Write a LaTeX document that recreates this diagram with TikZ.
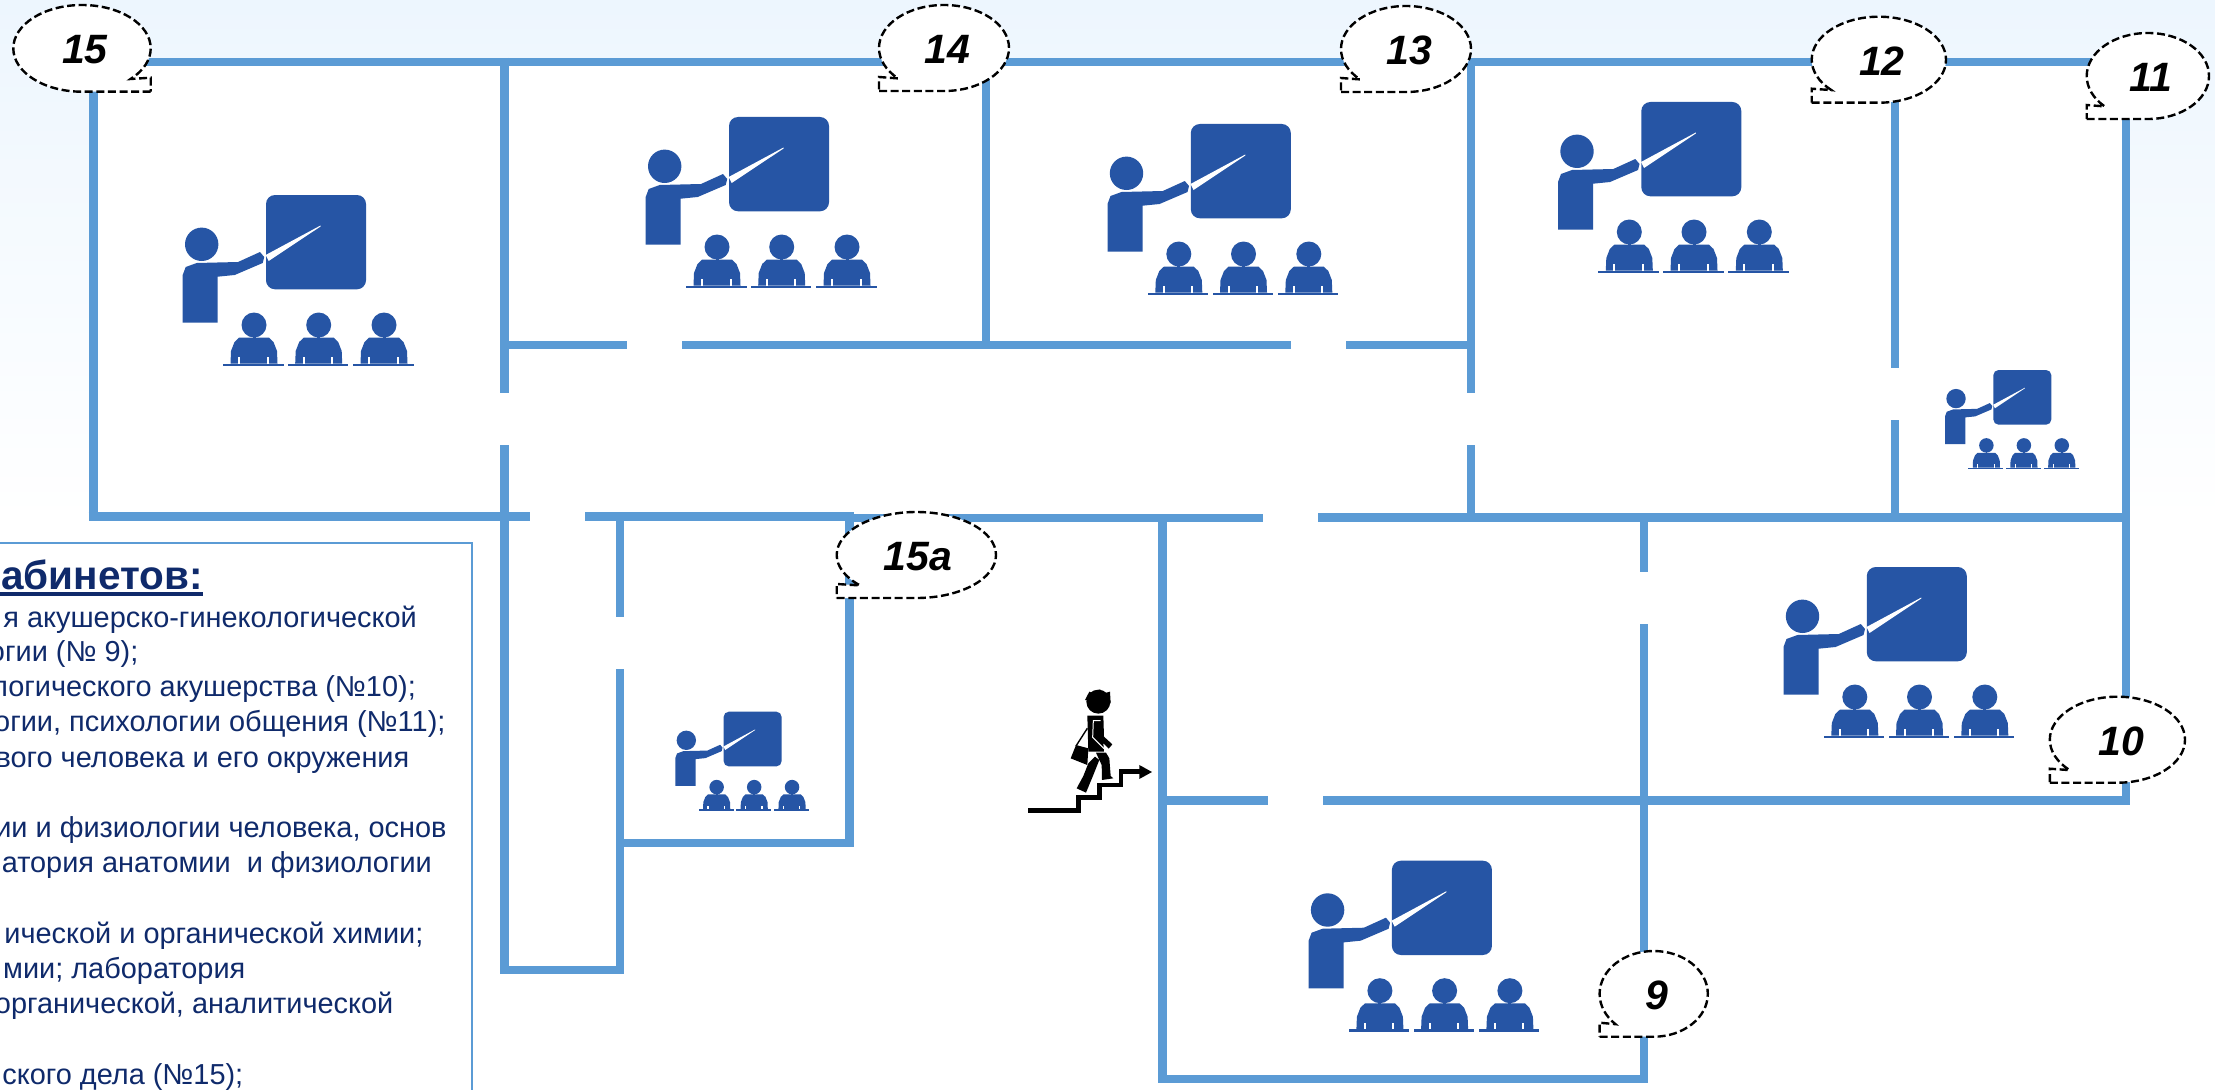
\documentclass[tikz,border=0pt]{standalone}
\usepackage{fontspec}
\setmainfont{Liberation Sans}
\definecolor{wallc}{HTML}{5B9BD5}
\definecolor{iconc}{HTML}{2655A5}
\definecolor{navy}{HTML}{0F2A6B}
\definecolor{skyc}{HTML}{EDF6FE}
\tikzset{
  wall/.style={draw=wallc,line width=8.4pt,line cap=butt},
  calloutshape/.style={draw=black,fill=white,line width=2.4pt,dash pattern=on 8pt off 3.6pt,line join=miter},
  calloutnum/.style={inner sep=0pt,font=\fontsize{41}{45}\selectfont\bfseries\itshape,text=black},
  listline/.style={inner sep=0pt,anchor=base east,text=navy,font=\fontsize{28.9}{34}\selectfont},
}
% teacher pictogram: x, y of top-left, scale
\newcommand\teacher[3]{%
\begin{scope}[shift={(#1,#2)},scale=#3]
  \fill[iconc,rounded corners={#3*9pt}] (83.3,0) rectangle (183.3,94.3);
  \fill[iconc] (19,49.3) circle[radius=16.7];
  \fill[iconc] (0,127.7) -- (35,127.7) -- (35,81.7) -- (52,80) -- (80,68) -- (81.5,62) -- (77.3,57) -- (55.3,67) -- (14,68) -- (3,72) -- (0,80) -- cycle;
  \fill[white] (83,60) -- (137.8,30.5) -- (137.8,31.5) -- (86,66) -- cycle;
  \foreach \sx in {71.3,136,201.3}{
    \fill[iconc] (\sx,130) circle[radius=12.5];
    \fill[iconc] (\sx-1.5,140) rectangle (\sx+1.5,144);
    \fill[iconc] (\sx-23.5,168.5) -- (\sx-23,156) -- (\sx-19.5,147) -- (\sx-15,142.7) -- (\sx+15,142.7) -- (\sx+19.5,147) -- (\sx+23,156) -- (\sx+23.5,168.5) -- cycle;
    \fill[white] (\sx-16,162) rectangle (\sx-14,168.5);
    \fill[white] (\sx+12.5,162) rectangle (\sx+14.5,168.5);
    \fill[iconc] (\sx-31,168.5) rectangle (\sx+29.5,171);
  }
\end{scope}}
% callout: name, left, top, right, bottom, text, text dx; tail bottom-left
\newcommand\calloutL[7]{%
  \pgfmathsetmacro\cxx{(#2+#4)/2}\pgfmathsetmacro\cyy{(#3+#5)/2}%
  \pgfmathsetmacro\rxx{(#4-#2)/2}\pgfmathsetmacro\ryy{(#5-#3)/2}%
  \path[calloutshape] (#2,#5) -- (\cxx,#5) arc[start angle=270,end angle=585,x radius=\rxx pt,y radius=\ryy pt] -- (#2,#5-14) -- cycle;
  \node[calloutnum] (#1) at (\cxx+#7,\cyy+1.5) {#6};}
\newcommand\calloutR[7]{%
  \pgfmathsetmacro\cxx{(#2+#4)/2}\pgfmathsetmacro\cyy{(#3+#5)/2}%
  \pgfmathsetmacro\rxx{(#4-#2)/2}\pgfmathsetmacro\ryy{(#5-#3)/2}%
  \path[calloutshape] (#4,#5) -- (\cxx,#5) arc[start angle=270,end angle=-45,x radius=\rxx pt,y radius=\ryy pt] -- (#4,#5-14) -- cycle;
  \node[calloutnum] (#1) at (\cxx+#7,\cyy+1.5) {#6};}
\begin{document}
\begin{tikzpicture}[x=1pt,y=-1pt]
\useasboundingbox (0,0) rectangle (2215,1089);
% background
\fill[white] (0,0) rectangle (2215,1089);
\shade[top color=skyc,bottom color=white] (0,0) rectangle (2215,520);
\fill[white] (93,62) -- (2126,62) -- (2126,800) -- (1644,800) -- (1644,1079) -- (1162,1079) -- (1162,517) -- (849,517) -- (849,843) -- (620,843) -- (620,970) -- (504,970) -- (504,517) -- (93,517) -- cycle;
% outer walls
\draw[wall] (88.5,62) -- (2130,62);
\draw[wall,line width=9pt] (93,58) -- (93,521);
\draw[wall] (2126,58) -- (2126,804);
% upper verticals
\draw[wall] (504.5,58) -- (504.5,392.7);
\draw[wall] (504.5,445) -- (504.5,974);
\draw[wall] (986,58) -- (986,349);
\draw[wall] (1471,58) -- (1471,392.7);
\draw[wall] (1471,445) -- (1471,520);
\draw[wall] (1895,58) -- (1895,367.7);
\draw[wall] (1895,420) -- (1895,520);
% corridor upper wall
\draw[wall] (500,345) -- (627,345);
\draw[wall] (682,345) -- (1291,345);
\draw[wall] (1346,345) -- (1475,345);
% corridor lower wall
\draw[wall] (88.5,516.5) -- (530,516.5);
\draw[wall] (585,516.5) -- (853.5,516.5);
\draw[wall] (853,518) -- (1263,518);
\draw[wall] (1318,517.5) -- (2130,517.5);
% room 15a and stub
\draw[wall] (619.7,512.5) -- (619.7,616.7);
\draw[wall] (619.7,669) -- (619.7,974);
\draw[wall] (500,970) -- (624,970);
\draw[wall] (849.5,512.5) -- (849.5,846.8);
\draw[wall] (620,842.7) -- (853.7,842.7);
% rooms 9 and 10
\draw[wall] (1162.5,514) -- (1162.5,1083);
\draw[wall] (1158.4,1079) -- (1648.2,1079);
\draw[wall] (1644,513) -- (1644,571.7);
\draw[wall] (1644,624) -- (1644,1083);
\draw[wall] (1158.4,800.5) -- (1268,800.5);
\draw[wall] (1323,800.5) -- (2130,800.5);
% icons
\teacher{182.7}{195}{1}
\teacher{645.7}{117}{1}
\teacher{1107.5}{124}{1}
\teacher{1558}{102}{1}
\teacher{1945}{370}{0.58}
\teacher{675.3}{711.7}{0.58}
\teacher{1783.5}{567}{1}
\teacher{1308.6}{860.7}{1}
% stairs figure
\begin{scope}[shift={(1000,650)},x=0.3333pt,y=-0.3333pt]
  \draw[black,line width=4.8pt,line join=miter] (85,482) -- (235,482) -- (235,443) -- (298,443) -- (298,405) -- (363,405) -- (363,365) -- (422,365);
  \fill[black] (418,345) -- (456,366) -- (418,387) -- cycle;
  \fill[black] (295,155) circle[radius=36];
  \fill[black] (255,150) -- (268,125) -- (280,130) -- (300,118) -- (312,130) -- (330,125) -- (332,160) -- cycle;
  \fill[black] (262,197) -- (310,197) -- (312,260) -- (337,283) -- (326,296) -- (310,280) -- (312,305) -- (265,305) -- cycle;
  \draw[white,line width=1pt] (302,212) -- (280,212) -- (278,262) -- (312,296);
  \fill[black] (228,285) -- (265,295) -- (262,345) -- (212,325) -- cycle;
  \draw[black,line width=1.4pt] (262,235) -- (228,288);
  \fill[black] (288,308) -- (318,308) -- (328,325) -- (332,378) -- (340,385) -- (306,390) -- (305,345) -- (298,330) -- cycle;
  \fill[black] (285,320) -- (298,330) -- (280,375) -- (258,428) -- (230,415) -- (250,378) -- (265,340) -- cycle;
\end{scope}
% legend box
\draw[wallc,line width=2pt,fill=white] (-10,543) rectangle (472,1110);
\node[inner sep=0pt,anchor=base east,text=navy,font=\fontsize{40.5}{44}\selectfont\bfseries] (lhead) at (202.7,589.3) {абинетов:};
\draw[navy,line width=4.4pt] (0,593.7) -- (lhead.south east |- 0,593.7);
\node[listline] (l1) at (417,627.5) {я акушерско-гинекологической};
\node[listline] (l2) at (138.5,661.7) {огии (№ 9);};
\node[listline] (l3) at (416,696.8) {логического акушерства (№10);};
\node[listline] (l4) at (445.5,731.7) {огии, психологии общения (№11);};
\node[listline] (l5) at (409.5,767.3) {вого человека и его окружения};
\node[listline] (l6) at (446.7,837.3) {ии и физиологии человека, основ};
\node[listline] (l7) at (432,872.7) {атория анатомии~~и физиологии};
\node[listline] (l8) at (423.5,943.3) {ической и органической химии;};
\node[listline] (l9) at (245.5,978.3) {мии; лаборатория};
\node[listline] (l10) at (393.5,1013.3) {органической, аналитической};
\node[listline] (l11) at (243.5,1084) {ского дела (№15);};
% callouts
\calloutR{c15}{13.3}{5}{150.7}{91.7}{15}{3}
\calloutL{c14}{879}{5}{1009}{91}{14}{3}
\calloutL{c13}{1341}{6}{1471}{92}{13}{3}
\calloutL{c12}{1811.7}{16.7}{1946}{102.7}{12}{3}
\calloutL{c11}{2086.7}{33}{2209}{119}{11}{3}
\calloutL{c15a}{836.7}{512}{996}{598}{15a}{1.5}
\calloutL{c10}{2049.8}{696.7}{2185}{782.7}{10}{4}
\calloutL{c9}{1599.6}{951}{1707.8}{1036.7}{9}{3}
\end{tikzpicture}
\end{document}
